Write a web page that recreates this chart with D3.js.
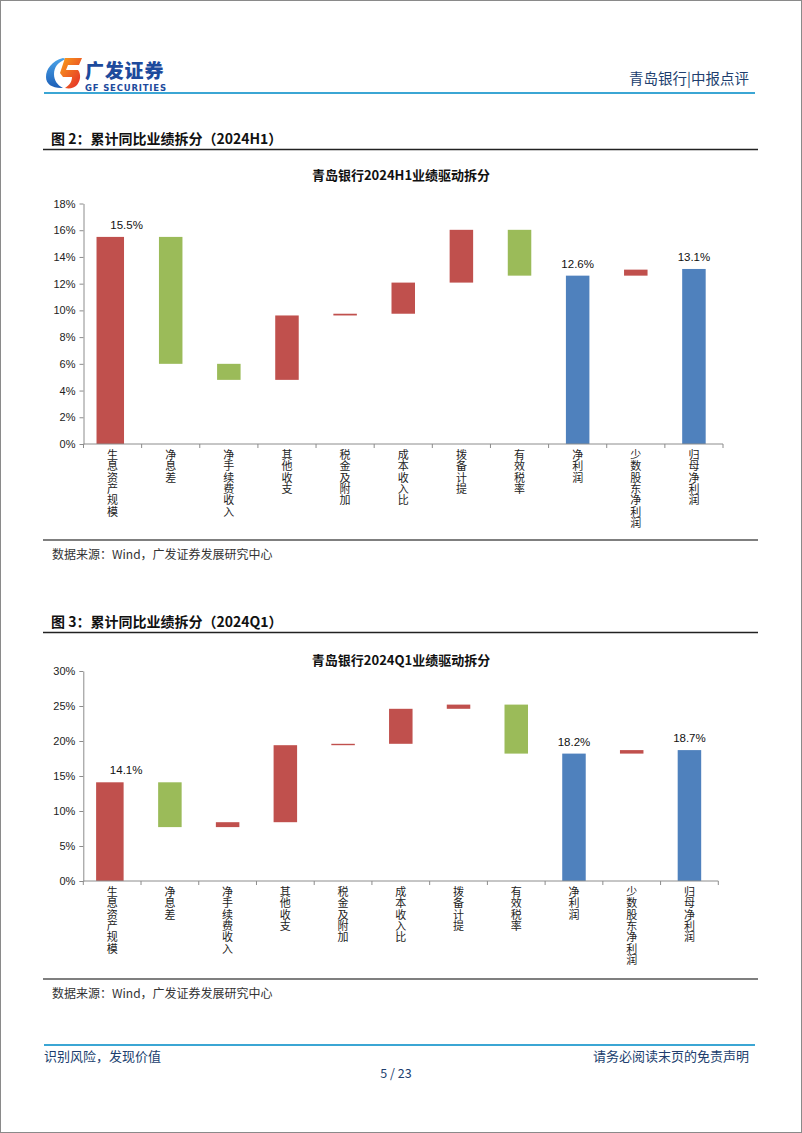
<!DOCTYPE html>
<html><head><meta charset="utf-8">
<script src="https://cdn.jsdelivr.net/npm/d3@7"></script>
<style>
html,body{margin:0;padding:0;background:#fff;}
svg{display:block;}
</style></head>
<body>
<svg id="page" width="802" height="1133"></svg>
<script>
// ---------- DATA ----------
const categories = ["生息资产规模","净息差","净手续费收入","其他收支","税金及附加","成本收入比","拨备计提","有效税率","净利润","少数股东净利润","归母净利润"];
const barKinds   = ["step","step","step","step","step","step","step","step","total","step","total"];

// 2024H1 waterfall: start / end of each bar (%)
const h1From = [0,    15.5, 6.0, 4.8,  9.62, 9.75, 12.08, 16.03, 0,    12.6, 0];
const h1To   = [15.5, 6.0,  4.8, 9.62, 9.75, 12.08,16.03, 12.6,  12.6, 13.05,13.1];
const h1Labels = ["15.5%","","","","","","","","12.6%","","13.1%"];
const h1Ticks = [0,2,4,6,8,10,12,14,16,18];

// 2024Q1 waterfall
const q1From = [0,    14.1, 7.7, 8.4,  19.4, 19.6, 24.6, 25.2, 0,    18.2, 0];
const q1To   = [14.1, 7.7,  8.4, 19.4, 19.6, 24.6, 25.2, 18.2, 18.2, 18.7, 18.7];
const q1Labels = ["14.1%","","","","","","","","18.2%","","18.7%"];
const q1Ticks = [0,5,10,15,20,25,30];

// ---------- STYLE ----------
const RED = "#C0504D", GREEN = "#9BBB59", BLUE = "#4F81BD";
const NAVY = "#203e6e";
const CJK = "'Noto Sans CJK SC','Noto Sans',sans-serif";
const ARIAL = "'Liberation Sans',Arial,sans-serif";

const svg = d3.select("#page");

// page frame
svg.append("rect").attr("x",0.5).attr("y",0.5).attr("width",801).attr("height",1132)
  .attr("fill","none").attr("stroke","#8a8a8a").attr("stroke-width",1);

// ---------- HEADER ----------
const defs = svg.append("defs");
const grad = defs.append("linearGradient").attr("id","fgrad")
  .attr("x1","0").attr("y1","0").attr("x2","1").attr("y2","1");
grad.append("stop").attr("offset","0").attr("stop-color","#f9a11b");
grad.append("stop").attr("offset","1").attr("stop-color","#e3262a");
const bgrad = defs.append("linearGradient").attr("id","bgrad")
  .attr("x1","0").attr("y1","0").attr("x2","0").attr("y2","1");
bgrad.append("stop").attr("offset","0").attr("stop-color","#4aa3e8");
bgrad.append("stop").attr("offset","1").attr("stop-color","#1c5fb8");

const logo = svg.append("g");
// blue arc of icon
logo.append("path")
  .attr("d","M63,58 C52,61 46,69 46,77 C46,84 52,88 61,88 L63,88 C57,85 54,80 54,74 C54,67 58,62 66,59 Z")
  .attr("fill","url(#bgrad)");
// red/orange F of icon
logo.append("path")
  .attr("d","M65,58 L82,58 L79,65 L68,65 L66,70 L78,70 C81,74 81,80 77,85 C74,88 70,89 65,88 C70,85 72,81 72,77 L63,77 L60,73 Z")
  .attr("fill","url(#fgrad)");
logo.append("text").attr("x",85).attr("y",77.5)
  .attr("font-family",CJK).attr("font-weight","900").attr("font-size",19)
  .attr("fill","#1d4a9c").attr("letter-spacing","0.8")
  .text("广发证券");
logo.append("text").attr("x",85).attr("y",91)
  .attr("font-family","'DejaVu Sans',sans-serif").attr("font-weight","bold").attr("font-size",8.5)
  .attr("fill","#1d4a9c").attr("letter-spacing","0.8")
  .text("GF SECURITIES");

svg.append("text").attr("x",749).attr("y",84).attr("text-anchor","end")
  .attr("font-family",CJK).attr("font-size",14.5).attr("fill",NAVY)
  .text("青岛银行|中报点评");
svg.append("line").attr("x1",44).attr("x2",755).attr("y1",93).attr("y2",93)
  .attr("stroke","#3ba6d4").attr("stroke-width",2.2);

// ---------- CHART DRAWER ----------
function drawFigure(cfg){
  const g = svg.append("g");
  // figure title
  g.append("text").attr("x",51).attr("y",cfg.figTitleY)
    .attr("font-family",CJK).attr("font-weight","bold").attr("font-size",14).attr("fill","#111")
    .attr("xml:space","preserve")
    .text(cfg.figTitle);
  g.append("line").attr("x1",43).attr("x2",758).attr("y1",cfg.figLineY).attr("y2",cfg.figLineY)
    .attr("stroke","#222").attr("stroke-width",1.3);
  // chart title
  g.append("text").attr("x",401).attr("y",cfg.chartTitleY).attr("text-anchor","middle")
    .attr("font-family",CJK).attr("font-weight","bold").attr("font-size",13).attr("fill","#111")
    .text(cfg.chartTitle);

  const x = d3.scaleBand().domain(categories).range([cfg.x0, cfg.x1]).paddingInner(0).paddingOuter(0);
  const y = d3.scaleLinear().domain([0, d3.max(cfg.ticks)]).range([cfg.yBottom, cfg.yTop]);
  const barW = 23.5;

  const rows = categories.map((c,i)=>({c, i, from:cfg.from[i], to:cfg.to[i], kind:barKinds[i], label:cfg.labels[i]}));
  const color = d => d.kind==="total" ? BLUE : (d.to >= d.from ? RED : GREEN);
  const wOf = d => d.i===0 ? barW+4 : barW;
  const xOf = d => x(d.c) + x.bandwidth()/2 - wOf(d)/2 - (d.i===0 ? 2.3 : 0);

  g.append("g").selectAll("rect").data(rows).join("rect")
    .attr("x", xOf)
    .attr("width", wOf)
    .attr("y", d => y(Math.max(d.from,d.to)))
    .attr("height", d => Math.max(1.2, Math.abs(y(d.from)-y(d.to))))
    .attr("fill", color);

  // value labels
  g.append("g").selectAll("text").data(rows.filter(d=>d.label)).join("text")
    .attr("x", d => x(d.c) + x.bandwidth()/2 + (d.i===0 ? 14 : 0))
    .attr("y", d => y(d.to) - 8)
    .attr("text-anchor","middle")
    .attr("font-family",ARIAL).attr("font-size",11.5).attr("fill","#111")
    .text(d => d.label);

  // y axis
  const yAxis = d3.axisLeft(y).tickValues(cfg.ticks).tickSize(4).tickSizeOuter(0).tickFormat(d => d + "%");
  const ya = g.append("g").attr("transform",`translate(${cfg.x0},0)`).call(yAxis);
  ya.select(".domain").attr("stroke","#8c8c8c");
  ya.selectAll(".tick line").attr("stroke","#8c8c8c");
  ya.selectAll(".tick text").attr("font-family",ARIAL).attr("font-size",11).attr("fill","#222").attr("x",-8);

  // x axis line with boundary ticks
  g.append("line").attr("x1",cfg.x0).attr("x2",cfg.x1).attr("y1",cfg.yBottom).attr("y2",cfg.yBottom)
    .attr("stroke","#8c8c8c").attr("stroke-width",1);
  const bounds = categories.map(c => x(c)).concat([cfg.x1]);
  g.append("g").selectAll("line").data(bounds).join("line")
    .attr("x1",d=>d).attr("x2",d=>d).attr("y1",cfg.yBottom).attr("y2",cfg.yBottom+4)
    .attr("stroke","#8c8c8c");

  // vertical category labels (one vertical text per category)
  g.append("g").selectAll("text").data(categories).join("text")
    .attr("x", c => x(c) + x.bandwidth()/2)
    .attr("y", cfg.yBottom + 5.5)
    .attr("writing-mode","vertical-rl")
    .style("text-orientation","upright")
    .attr("letter-spacing","0.3")
    .attr("font-family",CJK).attr("font-size",11).attr("fill","#222")
    .text(c => c);

  // source
  g.append("line").attr("x1",43).attr("x2",758).attr("y1",cfg.srcLineY).attr("y2",cfg.srcLineY)
    .attr("stroke","#555").attr("stroke-width",1.3);
  g.append("text").attr("x",52).attr("y",cfg.srcLineY+19)
    .attr("font-family",CJK).attr("font-size",12).attr("fill","#333")
    .text("数据来源：Wind，广发证券发展研究中心");
}

drawFigure({
  figTitle:"图 2：累计同比业绩拆分（2024H1）", figTitleY:144, figLineY:149.5,
  chartTitle:"青岛银行2024H1业绩驱动拆分", chartTitleY:180,
  x0:83.5, x1:723, yTop:203.5, yBottom:444,
  ticks:h1Ticks, from:h1From, to:h1To, labels:h1Labels,
  srcLineY:540
});
drawFigure({
  figTitle:"图 3：累计同比业绩拆分（2024Q1）", figTitleY:627, figLineY:632.5,
  chartTitle:"青岛银行2024Q1业绩驱动拆分", chartTitleY:665,
  x0:83.3, x1:718.3, yTop:671, yBottom:881,
  ticks:q1Ticks, from:q1From, to:q1To, labels:q1Labels,
  srcLineY:979
});

// ---------- FOOTER ----------
svg.append("line").attr("x1",44).attr("x2",755).attr("y1",1045).attr("y2",1045)
  .attr("stroke","#3ba6d4").attr("stroke-width",2);
svg.append("text").attr("x",44).attr("y",1061)
  .attr("font-family",CJK).attr("font-size",13).attr("fill",NAVY).text("识别风险，发现价值");
svg.append("text").attr("x",749).attr("y",1061).attr("text-anchor","end")
  .attr("font-family",CJK).attr("font-size",13).attr("fill",NAVY).text("请务必阅读末页的免责声明");
svg.append("text").attr("x",396).attr("y",1078).attr("text-anchor","middle")
  .attr("font-family",CJK).attr("font-size",12.5).attr("fill",NAVY).text("5 / 23");
</script>
</body></html>
